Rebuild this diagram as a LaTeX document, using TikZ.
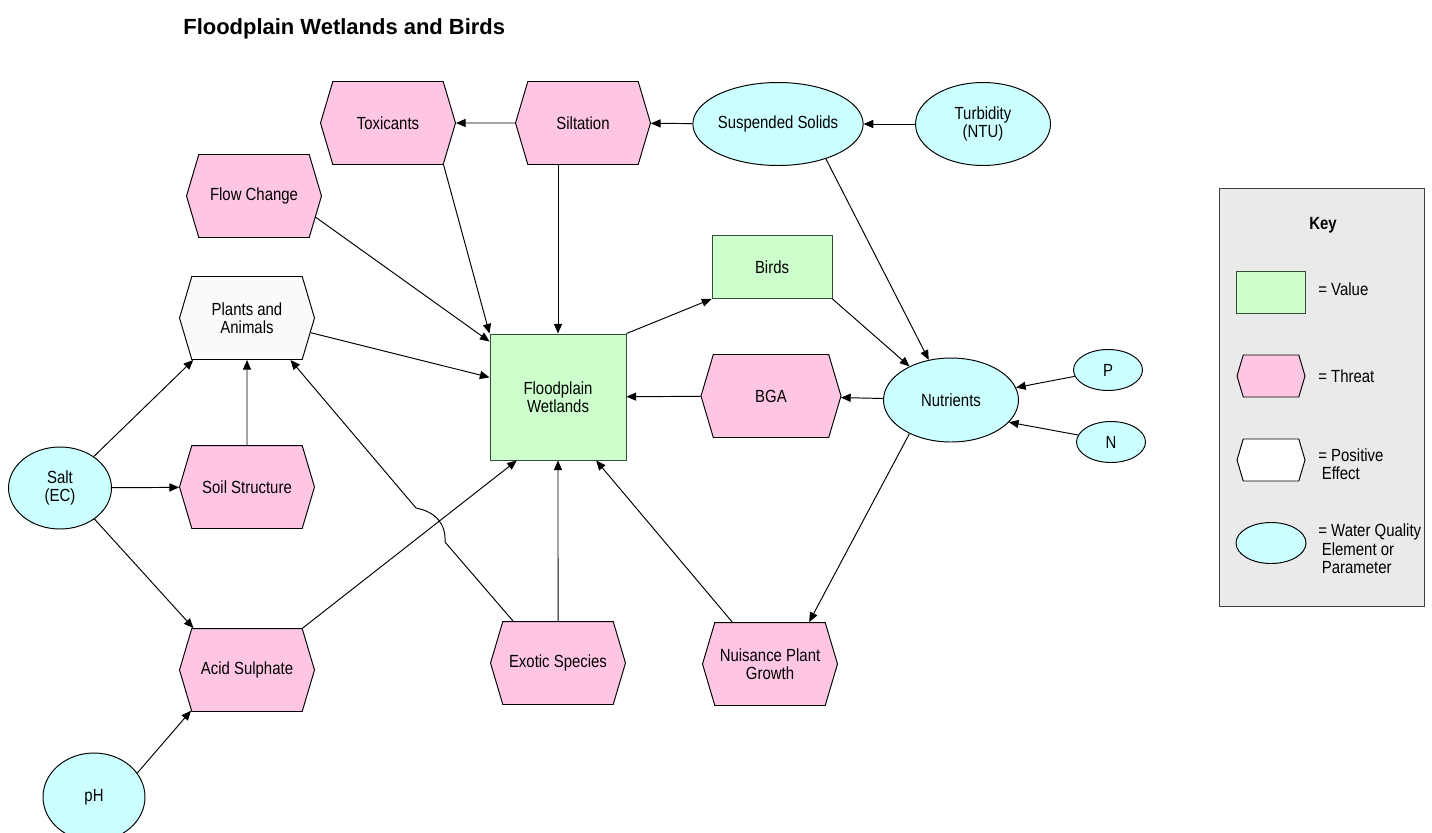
\documentclass[tikz,border=0pt]{standalone}
\usepackage{fontspec}
\setmainfont{Liberation Sans}[FakeStretch=0.85]
\newfontfamily\titlefont{Liberation Sans}
\usetikzlibrary{shapes.symbols, shapes.geometric, arrows.meta}
\definecolor{valuegreen}{RGB}{204,255,204}
\definecolor{valueedge}{RGB}{51,77,51}
\definecolor{threatpink}{RGB}{255,198,228}
\definecolor{wqcyan}{RGB}{204,255,255}
\definecolor{keygrey}{RGB}{234,234,234}
\newcommand\lbl{\fontsize{10}{10.5}\selectfont}

\begin{document}
\begin{tikzpicture}[x=0.02cm, y=-0.02cm, line width=0.55pt, font=\lbl,
    value/.style = {draw=valueedge, fill=valuegreen, inner sep=0pt, align=center},
    threat/.style = {draw, fill=threatpink, shape=signal, signal to=west and east, signal pointer angle=147, inner sep=0pt, minimum width=2.7cm, minimum height=1.66cm, align=center},
    positive/.style = {threat, fill=black!2},
    wq/.style = {draw, fill=wqcyan, ellipse, inner sep=0pt, align=center},
    arr/.style = {-{Triangle[length=5.5pt, width=4.6pt]}}]
    \useasboundingbox (0,0) rectangle (1432,832);

    \node [anchor=west, font=\titlefont\bfseries\fontsize{12.5}{14}\selectfont] (title) at (177,29) {Floodplain Wetlands and Birds};

    \node [threat] (tox) at (388,123) {Toxicants};
    \node [threat] (silt) at (583,123) {Siltation};
    \node [wq, minimum width=3.38cm, minimum height=1.66cm] (ss) at (778,124) {Suspended Solids};
    \node [wq, minimum width=2.7cm, minimum height=1.66cm] (turb) at (983,124) {Turbidity\\(NTU)};
    \node [threat] (flow) at (254,196) {Flow Change};
    \node [positive] (pa) at (247,318) {Plants and\\Animals};
    \node [value, minimum width=2.4cm, minimum height=1.26cm] (birds) at (772,267) {Birds};
    \node [value, minimum width=2.72cm, minimum height=2.52cm] (fw) at (558,397) {Floodplain\\Wetlands};
    \node [threat, minimum width=2.8cm] (bga) at (771,396) {BGA};
    \node [wq, minimum width=2.7cm, minimum height=1.68cm] (nut) at (951,400) {Nutrients};
    \node [wq, minimum width=1.38cm, minimum height=0.82cm] (p) at (1108,370) {P};
    \node [wq, minimum width=1.38cm, minimum height=0.82cm] (n) at (1111,442) {N};
    \node [wq, minimum width=2.06cm, minimum height=1.64cm] (salt) at (60,488) {Salt\\(EC)};
    \node [threat] (soil) at (247,487) {Soil Structure};
    \node [threat] (acid) at (247,670) {Acid Sulphate};
    \node [threat] (exo) at (558,663) {Exotic Species};
    \node [threat] (nui) at (770,664) {Nuisance Plant\\Growth};
    \node [wq, minimum width=2.04cm, minimum height=1.76cm] (ph) at (94,797) {pH};

    % hop over the acid sulphate line
    \coordinate (j1) at (445,542);
    \coordinate (j2) at (416,508);

    \draw [arr] (silt) -- (tox);
    \draw [arr] (ss) -- (silt);
    \draw [arr] (turb) -- (ss);
    \draw [arr] (tox.-37) -- (fw.north west);
    \draw [arr] (silt.south -| fw.north) -- (fw.north);
    \draw [arr] (flow.-19) -- (fw.141.5);
    \draw [arr] (pa.-13) -- (fw.164.4);
    \draw [arr] (fw.north east) -- (birds.south west);
    \draw [arr] (birds.south east) -- (nut.141);
    \draw [arr] (ss.-36) -- (nut.119);
    \draw [arr] (bga) -- (fw);
    \draw [arr] (nut) -- (bga);
    \draw [arr] (p) -- (nut);
    \draw [arr] (n.168) -- (nut.-21.5);
    \draw [arr] (nut.-141) -- (nui.47);
    \draw [arr] (nui.132) -- (fw.-59.6);
    \draw [arr] (exo) -- (fw);
    \draw [arr] (acid.37) -- (fw.-123.1);
    \draw [arr] (exo.137.7) -- (j1) .. controls (446,524) and (436,512) .. (j2) -- (pa.-44);
    \draw [arr] (soil) -- (pa);
    \draw [arr] (salt.43) -- (pa.-142);
    \draw [arr] (salt) -- (soil);
    \draw [arr] (salt.-42) -- (acid.142);
    \draw [arr] (ph.29) -- (acid.-144);

    % key
    \draw [draw=black!75, fill=keygrey] (1219,188) rectangle (1424,606);
    \node [font=\lbl\bfseries] (key) at (1323,225) {Key};
    \node [value, minimum width=1.38cm, minimum height=0.84cm] (kvalue) at (1271,292) {};
    \node [threat, minimum width=1.36cm, minimum height=0.84cm] (kthreat) at (1271,376) {};
    \node [positive, fill=white, minimum width=1.36cm, minimum height=0.84cm] (kpos) at (1271,460) {};
    \node [wq, minimum width=1.4cm, minimum height=0.82cm] (kwq) at (1271,543) {};
    \node [anchor=west] (tvalue) at (1312,289) {= Value};
    \node [anchor=west] (tthreat) at (1312,376) {= Threat};
    \node [anchor=west, align=left] (tpos) at (1312,464) {= Positive\\\hspace{2pt}Effect};
    \node [anchor=west, align=left] (twq) at (1312,549) {= Water Quality\\\hspace{2pt}Element or\\\hspace{2pt}Parameter};
\end{tikzpicture}
\end{document}
